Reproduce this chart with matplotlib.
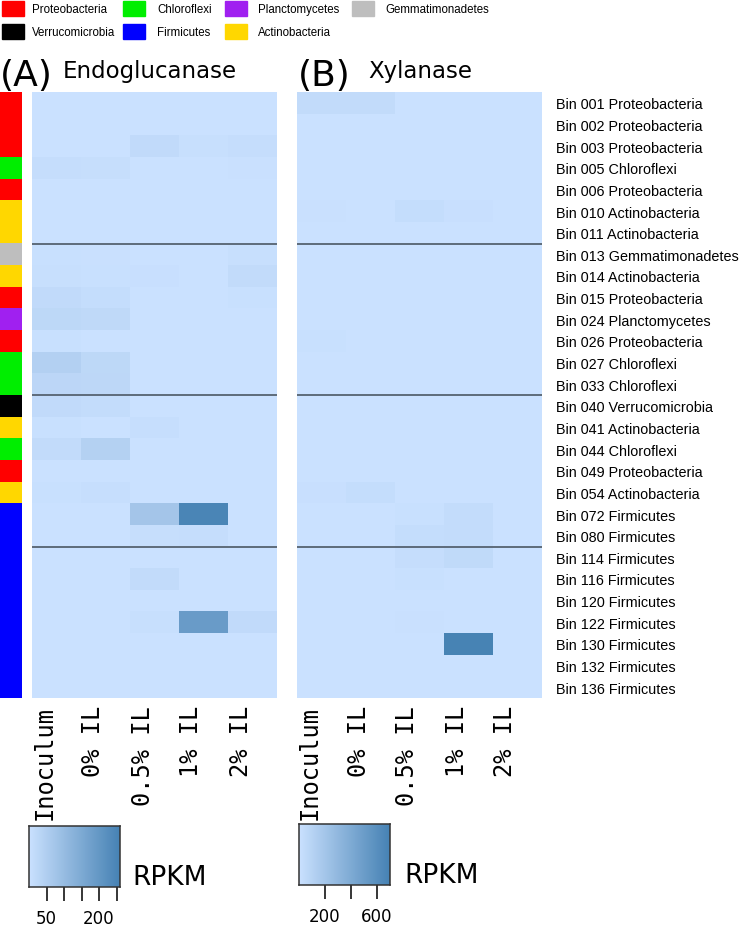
import numpy as np
import matplotlib
matplotlib.use("Agg")
import matplotlib.pyplot as plt
from matplotlib.colors import LinearSegmentedColormap, ListedColormap
from matplotlib.patches import Rectangle

W, H = 742, 929

bins = ["Bin 001 Proteobacteria", "Bin 002 Proteobacteria", "Bin 003 Proteobacteria",
        "Bin 005 Chloroflexi", "Bin 006 Proteobacteria", "Bin 010 Actinobacteria",
        "Bin 011 Actinobacteria", "Bin 013 Gemmatimonadetes", "Bin 014 Actinobacteria",
        "Bin 015 Proteobacteria", "Bin 024 Planctomycetes", "Bin 026 Proteobacteria",
        "Bin 027 Chloroflexi", "Bin 033 Chloroflexi", "Bin 040 Verrucomicrobia",
        "Bin 041 Actinobacteria", "Bin 044 Chloroflexi", "Bin 049 Proteobacteria",
        "Bin 054 Actinobacteria", "Bin 072 Firmicutes", "Bin 080 Firmicutes",
        "Bin 114 Firmicutes", "Bin 116 Firmicutes", "Bin 120 Firmicutes",
        "Bin 122 Firmicutes", "Bin 130 Firmicutes", "Bin 132 Firmicutes",
        "Bin 136 Firmicutes"]
treatments = ["Inoculum", "0% IL", "0.5% IL", "1% IL", "2% IL"]

# RPKM, rows follow bins, columns follow treatments
endoglucanase = [
    [0, 0, 0, 0, 0], [0, 0, 0, 0, 0], [0, 0, 18, 6, 10], [10, 8, 0, 0, 2],
    [0, 0, 0, 0, 0], [0, 0, 0, 0, 0], [0, 0, 0, 0, 0], [3, 2, 0, 0, 6],
    [5, 3, 4, 0, 15], [18, 11, 0, 0, 3], [25, 22, 0, 0, 0], [3, 0, 0, 0, 0],
    [45, 25, 0, 0, 0], [28, 26, 0, 0, 0], [18, 14, 0, 0, 0], [3, 0, 7, 0, 0],
    [16, 42, 0, 0, 0], [0, 0, 0, 0, 0], [3, 7, 0, 0, 0], [0, 0, 75, 250, 0],
    [0, 0, 8, 10, 0], [0, 0, 0, 0, 0], [0, 0, 15, 0, 0], [0, 0, 0, 0, 0],
    [0, 0, 6, 190, 18], [0, 0, 0, 0, 0], [0, 0, 0, 0, 0], [0, 0, 0, 0, 0]]
xylanase = [
    [40, 40, 0, 0, 0], [0, 0, 0, 0, 0], [0, 0, 0, 0, 0], [0, 0, 0, 0, 0],
    [0, 0, 0, 0, 0], [5, 0, 30, 10, 0], [0, 0, 0, 0, 0], [0, 0, 0, 0, 0],
    [0, 0, 0, 0, 0], [0, 0, 0, 0, 0], [0, 0, 0, 0, 0], [8, 0, 0, 0, 0],
    [0, 0, 0, 0, 0], [0, 0, 0, 0, 0], [0, 0, 0, 0, 0], [0, 0, 0, 0, 0],
    [0, 0, 0, 0, 0], [0, 0, 0, 0, 0], [10, 30, 0, 0, 0], [0, 0, 8, 35, 0],
    [0, 0, 30, 35, 0], [0, 0, 25, 50, 0], [0, 0, 8, 0, 0], [0, 0, 0, 0, 0],
    [0, 0, 5, 0, 0], [0, 0, 0, 690, 0], [0, 0, 0, 0, 0], [0, 0, 0, 0, 0]]

phyla = ["Proteobacteria", "Verrucomicrobia", "Chloroflexi", "Firmicutes",
         "Planctomycetes", "Actinobacteria", "Gemmatimonadetes"]
phylum_colors = ["#FF0000", "#000000", "#00EE00", "#0000FF",
                 "#A020F0", "#FFD700", "#BEBEBE"]
row_phylum = [b.split()[-1] for b in bins]
group_breaks = [7, 14, 21]

cmap = LinearSegmentedColormap.from_list("rpkm", ["#CAE1FF", "#4682B4"])


def px_axes(fig, x0, y0, x1, y1):
    # pixel box (top-left origin) -> figure axes
    return fig.add_axes([x0 / W, 1 - y1 / H, (x1 - x0) / W, (y1 - y0) / H])


fig = plt.figure(figsize=(W / 100, H / 100), dpi=100)

# phylum side strip
ax_s = px_axes(fig, 0, 93, 22, 699)
idx = np.array([[phyla.index(p)] for p in row_phylum])
ax_s.imshow(idx, cmap=ListedColormap(phylum_colors), vmin=-0.5, vmax=len(phyla) - 0.5,
            aspect="auto", interpolation="nearest")
ax_s.set_axis_off()


def heat(x0, data, vmax, right_labels):
    ax = px_axes(fig, x0, 93, x0 + 245, 699)
    ax.imshow(np.array(data, float), cmap=cmap, vmin=0, vmax=vmax,
              aspect="auto", interpolation="nearest")
    for b in group_breaks:
        ax.axhline(b - 0.5, color="#556270", lw=1.3)
    for s in ax.spines.values():
        s.set_visible(False)
    ax.set_xticks(range(len(treatments)))
    ax.set_xticklabels(treatments, rotation=90, ha="right", family="DejaVu Sans Mono",
                       fontsize=17)
    ax.tick_params(axis="x", length=0, pad=5)
    if right_labels:
        ax.yaxis.tick_right()
        ax.set_yticks(range(len(bins)))
        ax.set_yticklabels(bins, family="Liberation Sans", fontsize=10.4)
        ax.tick_params(axis="y", length=0, pad=10)
    else:
        ax.set_yticks([])
    return ax


heat(32, endoglucanase, 260, False)
heat(297, xylanase, 700, True)

# panel titles
fig.text(0 / W, 1 - 86 / H, "(A)", fontsize=26, va="baseline")
fig.text(63 / W, 1 - 78 / H, "Endoglucanase", fontsize=16.5, va="baseline")
fig.text(298 / W, 1 - 86 / H, "(B)", fontsize=26, va="baseline")
fig.text(368 / W, 1 - 78 / H, "Xylanase", fontsize=16.5, va="baseline")

# phylum legend (2 rows x 4 columns)
leg_cols = [2, 123, 225, 352]
leg_text = [32, 157, 258, 385]
leg_order = ["Proteobacteria", "Chloroflexi", "Planctomycetes", "Gemmatimonadetes",
             "Verrucomicrobia", "Firmicutes", "Actinobacteria"]
for k, name in enumerate(leg_order):
    r, c = divmod(k, 4)
    y0 = 2 + r * 23
    fig.patches.append(Rectangle((leg_cols[c] / W, 1 - (y0 + 15) / H), 22 / W, 15 / H,
                                 transform=fig.transFigure,
                                 color=phylum_colors[phyla.index(name)]))
    fig.text(leg_text[c] / W, 1 - (y0 + 8) / H, name, va="center", fontsize=8.3,
             family="Liberation Sans")


# colour keys
def key(x0, y0, vmax, ticks, labels, label_x):
    ax = px_axes(fig, x0, y0, x0 + 91, y0 + 61)
    ax.imshow(np.linspace(0, vmax, 256)[None, :], cmap=cmap, vmin=0, vmax=vmax,
              aspect="auto", extent=[0, vmax, 0, 1])
    ax.set_xlim(0, vmax)
    ax.set_yticks([])
    ax.set_xticks(ticks)
    ax.set_xticklabels(labels, fontsize=12)
    ax.tick_params(axis="x", length=10, width=1.1, pad=6)
    for s in ax.spines.values():
        s.set_color("#333333")
        s.set_linewidth(1.1)
    fig.text(label_x / W, 1 - (y0 + 58) / H, "RPKM", fontsize=19, va="baseline")


key(29, 827, 260, [50, 100, 150, 200, 250], ["50", "", "", "200", ""], 132)
key(299, 825, 700, [200, 400, 600], ["200", "", "600"], 404)

fig.savefig("out.png", dpi=100)
